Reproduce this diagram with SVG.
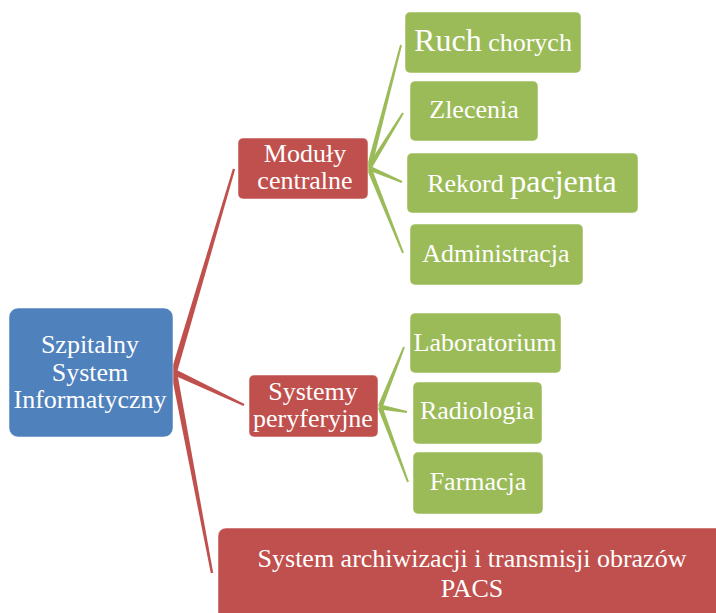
<svg xmlns="http://www.w3.org/2000/svg" width="716" height="613" viewBox="0 0 716 613">
  <style>
    .root { fill: #4F81BD; }
    .mid { fill: #C0504D; }
    .leaf { fill: #9BBB59; }
    .box { stroke: #ffffff; stroke-opacity: 0.5; stroke-width: 1; }
    .lbl { font-family: "Liberation Serif", "Times New Roman", serif; font-size: 26px; fill: #ffffff; text-anchor: middle; }
    .red { fill: #C0504D; }
    .green { fill: #9BBB59; }
  </style>
  <rect width="716" height="613" fill="#ffffff"/>

  <!-- tapered branch connectors: wide at the parent, narrow at the child -->
  <g id="connectors">
    <polygon class="red" points="176.88,372.85 235.15,169.34 232.85,168.66 171.12,371.15"/>
    <polygon class="red" points="172.72,374.71 243.49,406.08 244.51,403.92 175.28,369.29"/>
    <polygon class="red" points="171.05,372.56 210.82,573.22 213.18,572.78 176.95,371.44"/>
    <polygon class="green" points="371.42,168.63 401.97,45.25 400.03,44.75 366.58,167.37"/>
    <polygon class="green" points="371.13,169.31 403.85,113.53 402.15,112.47 366.87,166.69"/>
    <polygon class="green" points="368.02,170.30 401.61,182.92 402.39,181.08 369.98,165.70"/>
    <polygon class="green" points="366.68,168.93 402.07,253.37 403.93,252.63 371.32,167.07"/>
    <polygon class="green" points="382.32,407.93 404.93,347.37 403.07,346.63 377.68,406.07"/>
    <polygon class="green" points="379.54,409.46 406.82,412.98 407.18,411.02 380.46,404.54"/>
    <polygon class="green" points="377.66,407.87 407.06,482.35 408.94,481.65 382.34,406.13"/>
  </g>

  <g id="szpitalny-system">
    <rect class="root box" x="9" y="308" width="164" height="129" rx="9"/>
    <text class="lbl" x="90" y="353">Szpitalny</text>
    <text class="lbl" x="90" y="381">System</text>
    <text class="lbl" x="90" y="408">Informatyczny</text>
  </g>

  <g id="moduly-centralne">
    <rect class="mid box" x="238" y="138" width="130" height="61" rx="5"/>
    <text class="lbl" x="305" y="162">Moduły</text>
    <text class="lbl" x="305" y="189">centralne</text>
  </g>

  <g id="systemy-peryferyjne">
    <rect class="mid box" x="249" y="375" width="129" height="62" rx="5"/>
    <text class="lbl" x="313" y="400">Systemy</text>
    <text class="lbl" x="313" y="427">peryferyjne</text>
  </g>

  <g id="pacs">
    <rect class="mid box" x="218" y="528" width="510" height="100" rx="8"/>
    <text class="lbl" x="472" y="567">System archiwizacji i transmisji obrazów</text>
    <text class="lbl" x="472" y="597">PACS</text>
  </g>

  <g id="ruch-chorych">
    <rect class="leaf box" x="405" y="12" width="176" height="61" rx="5"/>
    <text class="lbl" x="493" y="51"><tspan font-size="32">Ruch</tspan> chorych</text>
  </g>

  <g id="zlecenia">
    <rect class="leaf box" x="410" y="81" width="128" height="60" rx="5"/>
    <text class="lbl" x="474" y="118">Zlecenia</text>
  </g>

  <g id="rekord-pacjenta">
    <rect class="leaf box" x="407" y="153" width="231" height="60" rx="5"/>
    <text class="lbl" x="522" y="192">Rekord <tspan font-size="32">pacjenta</tspan></text>
  </g>

  <g id="administracja">
    <rect class="leaf box" x="410" y="224" width="173" height="61" rx="5"/>
    <text class="lbl" x="496" y="262">Administracja</text>
  </g>

  <g id="laboratorium">
    <rect class="leaf box" x="410" y="313" width="151" height="60" rx="5"/>
    <text class="lbl" x="485" y="351">Laboratorium</text>
  </g>

  <g id="radiologia">
    <rect class="leaf box" x="413" y="382" width="129" height="62" rx="5"/>
    <text class="lbl" x="477" y="419">Radiologia</text>
  </g>

  <g id="farmacja">
    <rect class="leaf box" x="413" y="452" width="130" height="62" rx="5"/>
    <text class="lbl" x="478" y="490">Farmacja</text>
  </g>
</svg>
